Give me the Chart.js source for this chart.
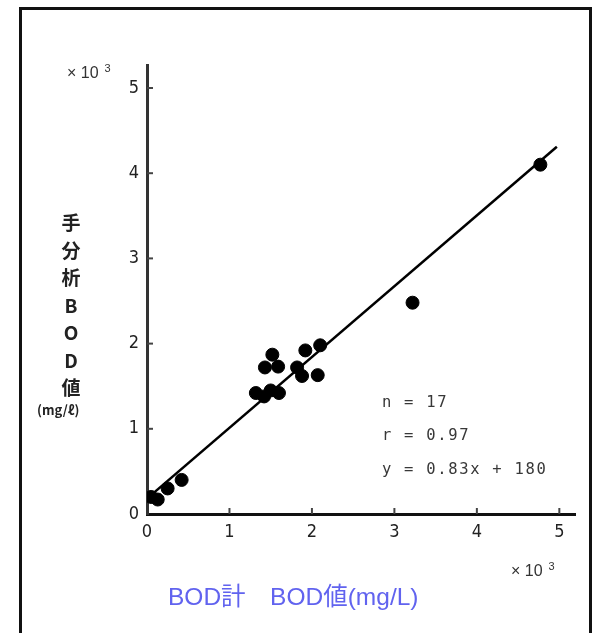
<!DOCTYPE html>
<html>
<head>
<meta charset="utf-8">
<script src="https://cdn.jsdelivr.net/npm/chart.js@4.4.0/dist/chart.umd.min.js"></script>
<style>
  html, body { margin: 0; padding: 0; background: #fff; overflow: hidden; }
  #wrap { position: relative; width: 596px; height: 633px; }
  #frame { position: absolute; left: 19px; top: 7px; width: 567px; height: 640px; border: 3px solid #111; }
  .txt { position: absolute; color: #333; white-space: nowrap; }
  .mono { font-family: "DejaVu Sans Mono", monospace; font-size: 15.5px; letter-spacing: 1.7px; color: #383838; }
  .exp { font: 16px "Liberation Sans", sans-serif; color: #333; }
  .exp sup { font-size: 11px; margin-left: 6px; }
</style>
</head>
<body>
<div id="wrap">
  <div id="frame"></div>
  <canvas id="grafico" width="596" height="633"></canvas>

  <div class="txt exp" style="left:67px; top:62px">× 10<sup>3</sup></div>
  <div class="txt exp" style="left:511px; top:560px">× 10<sup>3</sup></div>

  <div class="txt" style="left:58px; top:208px; width:26px; text-align:center; font:bold 19px 'Noto Sans CJK JP'; line-height:27.5px; color:#222">手<br>分<br>析<br>B<br>O<br>D<br>値</div>
  <div class="txt" style="left:37px; top:400px; font:bold 13px 'Noto Sans CJK JP'; color:#222">(mg/ℓ)</div>

  <div class="txt mono" style="left:382px; top:393px">n = 17</div>
  <div class="txt mono" style="left:382px; top:426px">r = 0.97</div>
  <div class="txt mono" style="left:382px; top:460px">y = 0.83x + 180</div>

  <div class="txt" style="left:168px; top:577px; font:24.5px 'Liberation Sans', 'Noto Sans CJK JP'; color:#6163ef">BOD計　BOD値(mg/L)</div>
</div>

<script>
// BOD計 (x) と 手分析 (y), 単位 ×10^3 mg/L
const bodMeter  = [0.05, 0.13, 0.25, 0.42, 1.32, 1.42, 1.50, 1.60, 1.43, 1.52, 1.59, 1.82, 1.88, 1.92, 2.10, 2.07, 3.22, 4.77];
const bodManual = [0.20, 0.17, 0.30, 0.40, 1.42, 1.38, 1.45, 1.42, 1.72, 1.87, 1.73, 1.72, 1.62, 1.92, 1.98, 1.63, 2.48, 4.10];

// recta de regresion y = 0.83x + 180 (extremos)
const fitX = [0, 4.97];
const fitY = [0.18, 4.31];

const xTicks = [0, 1, 2, 3, 4, 5];
const yTicks = [0, 1, 2, 3, 4, 5];

// marcas de tick hacia adentro
const inwardTicks = {
  id: 'inwardTicks',
  afterDraw(chart) {
    const ctx = chart.ctx;
    const area = chart.chartArea;
    const sx = chart.scales.x;
    const sy = chart.scales.y;
    ctx.save();
    ctx.strokeStyle = '#444';
    ctx.lineWidth = 2;
    xTicks.forEach(v => {
      if (v === 0) return;
      const px = sx.getPixelForValue(v);
      ctx.beginPath();
      ctx.moveTo(px, area.bottom);
      ctx.lineTo(px, area.bottom - 6);
      ctx.stroke();
    });
    yTicks.forEach(v => {
      if (v === 0) return;
      const py = sy.getPixelForValue(v);
      ctx.beginPath();
      ctx.moveTo(area.left, py);
      ctx.lineTo(area.left + 6, py);
      ctx.stroke();
    });
    ctx.restore();
  }
};

const tickFont = { family: "'DejaVu Sans Condensed', sans-serif", size: 18 };

const ctx = document.getElementById('grafico').getContext('2d');
new Chart(ctx, {
  data: {
    datasets: [
      {
        type: 'scatter',
        data: bodMeter.map((x, i) => ({ x: x, y: bodManual[i] })),
        backgroundColor: '#000',
        borderColor: '#000',
        pointRadius: 6.5,
        pointHoverRadius: 6.5
      },
      {
        type: 'line',
        data: fitX.map((x, i) => ({ x: x, y: fitY[i] })),
        borderColor: '#000',
        borderWidth: 2.5,
        pointRadius: 0,
        fill: false
      }
    ]
  },
  options: {
    responsive: false,
    animation: false,
    layout: { padding: { left: 0, right: 21, top: 65, bottom: 0 } },
    plugins: {
      legend: { display: false },
      tooltip: { enabled: false }
    },
    scales: {
      x: {
        type: 'linear',
        min: 0,
        max: 5.19,
        afterBuildTicks: s => { s.ticks = xTicks.map(v => ({ value: v })); },
        afterFit: s => { s.height = 119; },
        grid: { drawOnChartArea: false, drawTicks: false },
        border: { display: true, color: '#111', width: 3 },
        ticks: { color: '#222', padding: 8, font: tickFont, callback: v => v }
      },
      y: {
        type: 'linear',
        min: 0,
        max: 5.27,
        afterBuildTicks: s => { s.ticks = yTicks.map(v => ({ value: v })); },
        afterFit: s => { s.width = 147; },
        grid: { drawOnChartArea: false, drawTicks: false },
        border: { display: true, color: '#333', width: 3 },
        ticks: { color: '#222', padding: 8, font: tickFont, callback: v => v }
      }
    }
  },
  plugins: [inwardTicks]
});
</script>
</body>
</html>
